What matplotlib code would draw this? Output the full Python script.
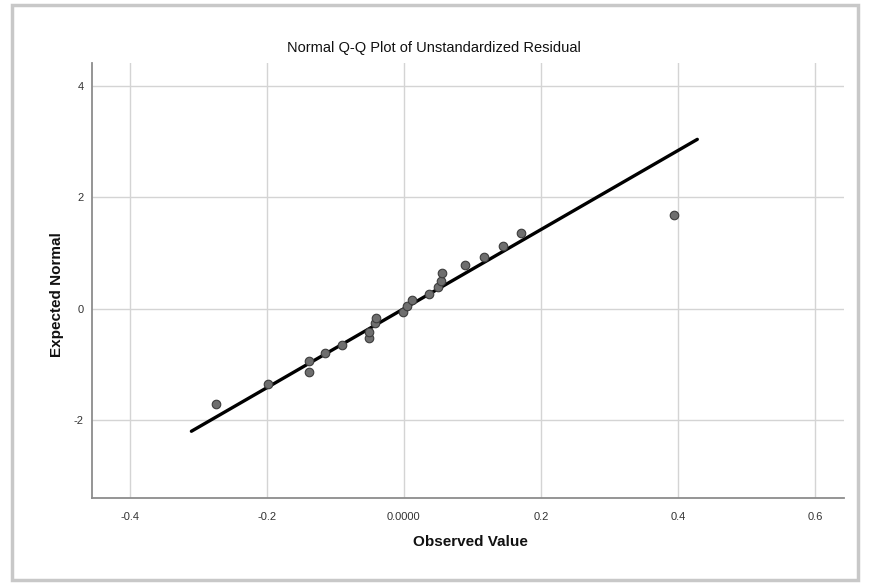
import numpy as np
import matplotlib.pyplot as plt
from matplotlib.patches import Rectangle

plt.rcParams['font.family'] = ['Liberation Sans', 'DejaVu Sans']
plt.rcParams['axes.unicode_minus'] = False

observed = [-0.274, -0.198, -0.139, -0.139, -0.115, -0.0905, -0.051, -0.051,
            -0.042, -0.041, -0.002, 0.005, 0.012, 0.036, 0.050, 0.054,
            0.056, 0.089, 0.117, 0.145, 0.171, 0.394]
expected = [-1.715, -1.36, -0.945, -1.14, -0.79, -0.645, -0.52, -0.41,
            -0.26, -0.17, -0.066, 0.05, 0.16, 0.27, 0.39, 0.50,
            0.64, 0.78, 0.93, 1.13, 1.36, 1.68]

# Recta de referencia
line_x = [-0.31, 0.428]
line_sd = 0.141

x_ticks = [-0.4, -0.2, 0.0, 0.2, 0.4, 0.6]
x_ticklabels = ['-0.4', '-0.2', '0.0000', '0.2', '0.4', '0.6']
y_ticks = [-2, 0, 2, 4]

fig = plt.figure(figsize=(8.7, 5.84), dpi=100)

# Marco exterior del visor de resultados
fig.patches.append(Rectangle((12 / 870, 4 / 584), 846 / 870, 575 / 584,
                             transform=fig.transFigure, fill=False,
                             edgecolor='#c8c8c8', linewidth=2.5))

ax = fig.add_axes([92 / 870, (584 - 497.7) / 584, (844 - 92) / 870, (497.7 - 62.7) / 584])

ax.plot(line_x, [v / line_sd for v in line_x], color='black', linewidth=2.4,
        solid_capstyle='round', zorder=3)
ax.scatter(observed, expected, s=38, color='#6e6e6e', edgecolor='#3c3c3c',
           linewidth=0.8, zorder=4)

ax.set_xlim(-0.455, 0.642)
ax.set_ylim(-3.39, 4.41)
ax.set_xticks(x_ticks)
ax.set_xticklabels(x_ticklabels)
ax.set_yticks(y_ticks)
ax.tick_params(length=0, labelsize=8, colors='#333333', pad=10)
ax.tick_params(axis='y', pad=6)

ax.grid(True, color='#d4d4d4', linewidth=1)
ax.set_axisbelow(True)
for side in ['top', 'right']:
    ax.spines[side].set_visible(False)
for side in ['left', 'bottom']:
    ax.spines[side].set_color('#8c8c8c')
    ax.spines[side].set_linewidth(1.3)

fig.text(434 / 870, 1 - 48 / 584, 'Normal Q-Q Plot of Unstandardized Residual',
         ha='center', va='center', fontsize=10.5, color='#111111')
fig.text(470 / 870, 1 - 542 / 584, 'Observed Value', ha='center', va='center',
         fontsize=11, fontweight='bold', color='#111111')
fig.text(57 / 870, 1 - 295 / 584, 'Expected Normal', ha='center', va='center',
         rotation=90, fontsize=11, fontweight='bold', color='#111111')

fig.savefig('out.png', dpi=100)
